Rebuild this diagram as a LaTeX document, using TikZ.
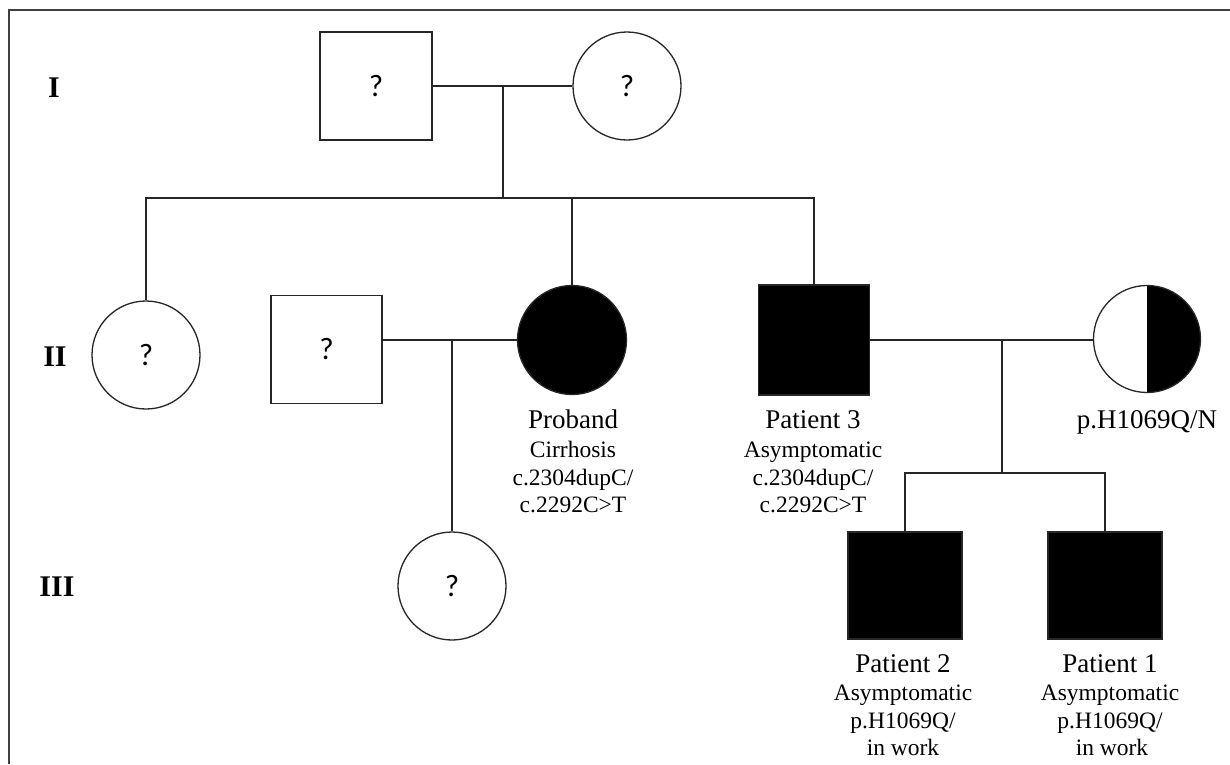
\documentclass[tikz,border=0pt]{standalone}
\usepackage{fontspec}
\setmainfont{Liberation Serif}
\newfontfamily\qfont{Carlito}
\begin{document}
\begin{tikzpicture}[x=1pt,y=-1pt,
  ln/.style={line width=1.2pt, draw=black!85},
  sq/.style={rectangle, draw=black!85, line width=1.3pt, fill=white, inner sep=0pt, font=\qfont\fontsize{31}{33}\selectfont},
  ci/.style={circle, draw=black!85, line width=1.3pt, fill=white, inner sep=0pt, font=\qfont\fontsize{31}{33}\selectfont},
  aff/.style={fill=black},
  gen/.style={font=\bfseries\fontsize{30}{32}\selectfont},
  lbig/.style={anchor=base, inner sep=0pt, font=\fontsize{27}{30}\selectfont},
  lsm/.style={anchor=base, inner sep=0pt, font=\fontsize{23.5}{28}\selectfont},
  frame/.style={line width=2pt, draw=black!75}
]
\useasboundingbox[fill=white] (0,0) rectangle (1230,764);
\draw[frame] (1230,10) -- (9,10) -- (9,764);

% generation labels
\node[gen] (gI) at (54,88) {I};
\node[gen] (gII) at (55,357) {II};
\node[gen] (gIII) at (57,587) {III};

% generation I
\node[sq, minimum width=112pt, minimum height=108pt] (I1) at (376,86) {?};
\node[ci, minimum size=108pt] (I2) at (627,86) {?};

% generation II
\node[ci, minimum size=108pt] (II1) at (146,355) {?};
\node[sq, minimum width=111pt, minimum height=108pt] (II2) at (326.5,349.5) {?};
\node[ci, aff, minimum size=109pt] (II3) at (572,340) {};
\node[sq, aff, minimum width=111pt, minimum height=110pt] (II4) at (814,340) {};
\node[ci, minimum size=107pt,
  path picture={\fill[black] (path picture bounding box.north) rectangle (path picture bounding box.south east);}] (II5) at (1147,339) {};

% generation III
\node[ci, minimum size=108pt] (III1) at (452,586) {?};
\node[sq, aff, minimum width=114pt, minimum height=107pt] (III2) at (905,585.5) {};
\node[sq, aff, minimum width=114pt, minimum height=107pt] (III3) at (1105,585.5) {};

% connectors
\coordinate (m1) at (503,86);
\coordinate (s1) at (503,198);
\draw[ln] (I1.east) -- (I2.west);
\draw[ln] (m1) -- (s1);
\draw[ln] (II1.north) |- (II4.north |- s1) -- (II4.north);
\draw[ln] (II3.north) -- (II3.north |- s1);

\coordinate (m2) at (III1.north |- II3.west);
\draw[ln] (II3.west -| II2.east) -- (II3.west);
\draw[ln] (m2) -- (III1.north);

\coordinate (m3) at (1002,340);
\coordinate (s3) at (1002,473);
\draw[ln] (II4.east) -- (II5.west |- II4.east);
\draw[ln] (m3) -- (s3);
\draw[ln] (III2.north) |- (s3) -| (III3.north);

% labels
\node[lbig] (pr1) at (573,428) {Proband};
\node[lsm] (pr2) at (573,457) {Cirrhosis};
\node[lsm] (pr3) at (573,485) {c.2304dupC/};
\node[lsm] (pr4) at (573,512) {c.2292C>T};

\node[lbig] (p31) at (813,428) {Patient 3};
\node[lsm] (p32) at (813,457) {Asymptomatic};
\node[lsm] (p33) at (813,485) {c.2304dupC/};
\node[lsm] (p34) at (813,512) {c.2292C>T};

\node[lbig] (wf) at (1147,428) {p.H1069Q/N};

\node[lbig] (p21) at (903,672) {Patient 2};
\node[lsm] (p22) at (903,700) {Asymptomatic};
\node[lsm] (p23) at (903,728) {p.H1069Q/};
\node[lsm] (p24) at (903,755) {in work};

\node[lbig] (p11) at (1110,672) {Patient 1};
\node[lsm] (p12) at (1110,700) {Asymptomatic};
\node[lsm] (p13) at (1110,728) {p.H1069Q/};
\node[lsm] (p14) at (1112,755) {in work};
\end{tikzpicture}
\end{document}
